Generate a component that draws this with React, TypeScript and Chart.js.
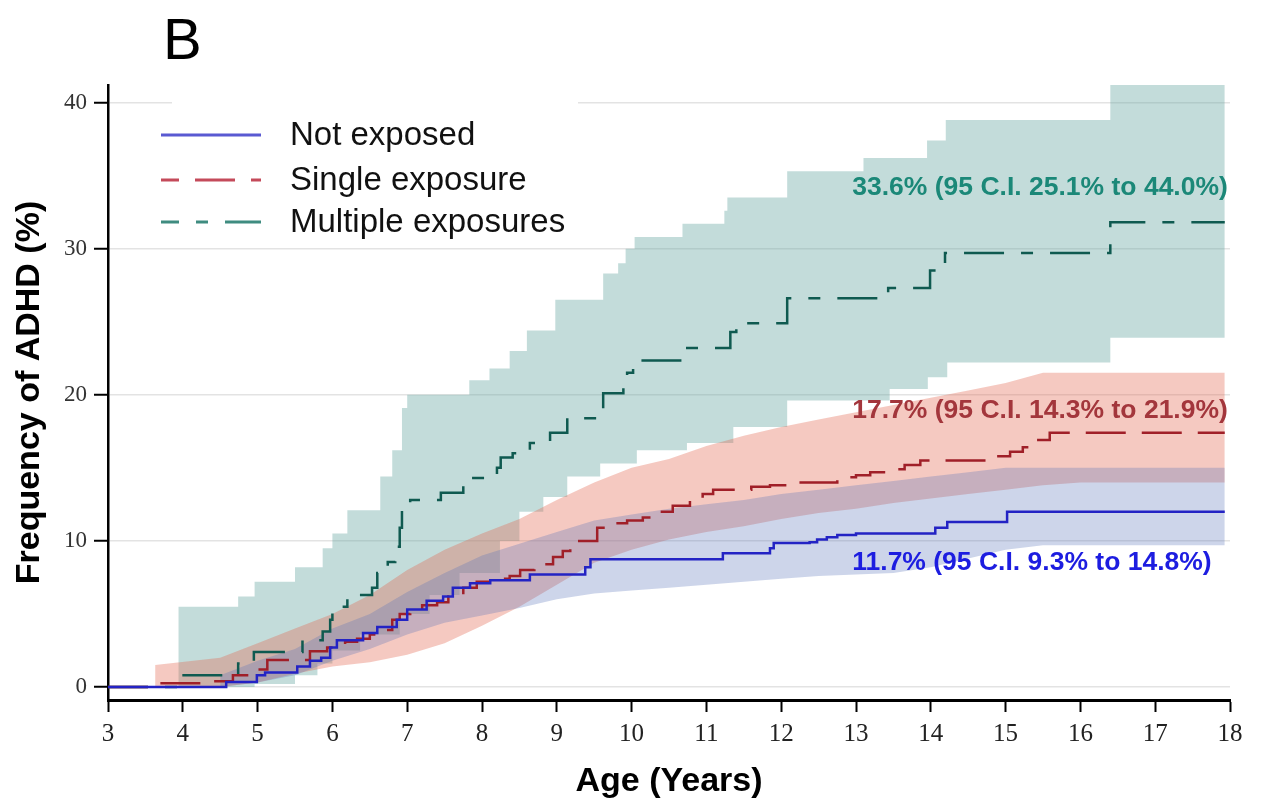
import React, { useEffect, useRef } from "react";
import { Chart, registerables } from "chart.js";

Chart.register(...registerables);

// ---------- DATA ----------
const xTicks = [3, 4, 5, 6, 7, 8, 9, 10, 11, 12, 13, 14, 15, 16, 17, 18];
const yTicks = [0, 10, 20, 30, 40];

const seriesLabels = ["Not exposed", "Single exposure", "Multiple exposures"];

// Not exposed (Kaplan-Meier cumulative frequency, %)
const notExposedAge = [3, 4.58, 4.99, 5.1, 5.53, 5.7, 5.85, 5.97, 6.06, 6.41, 6.6, 6.86, 7.0, 7.26, 7.48, 7.61, 7.84, 8.11, 8.64, 9.38, 9.45, 11.22, 11.85, 11.9, 12.38, 12.48, 12.61, 12.75, 13.0, 14.06, 14.22, 15.02, 17.93];
const notExposedPct = [0, 0.35, 0.8, 1.0, 1.4, 1.8, 2.0, 2.7, 3.2, 3.7, 4.1, 4.6, 5.3, 5.9, 6.2, 6.8, 7.1, 7.3, 7.7, 8.2, 8.75, 9.15, 9.5, 9.85, 9.9, 10.1, 10.25, 10.4, 10.5, 10.9, 11.3, 12.0, 12.0];

// Single exposure
const singleAge = [3, 3.65, 4.3, 4.67, 4.94, 5.13, 5.7, 5.93, 6.17, 6.33, 6.5, 6.64, 6.8, 6.9, 7.04, 7.2, 7.4, 7.55, 7.75, 7.93, 8.1, 8.37, 8.51, 8.7, 8.95, 9.08, 9.18, 9.3, 9.54, 9.75, 9.94, 10.15, 10.35, 10.55, 10.78, 10.95, 11.09, 11.6, 11.85, 12.08, 12.75, 13.0, 13.19, 13.45, 13.65, 13.86, 14.79, 15.06, 15.23, 15.42, 15.59, 17.93];
const singlePct = [0, 0.25, 0.4, 0.8, 1.2, 1.85, 2.45, 2.7, 3.1, 3.3, 3.6, 3.9, 4.6, 5.0, 5.3, 5.6, 5.8, 6.2, 6.8, 7.2, 7.4, 7.6, 8.0, 8.4, 8.9, 9.3, 9.6, 10.0, 10.9, 11.2, 11.4, 11.6, 12.0, 12.4, 12.8, 13.2, 13.5, 13.7, 13.8, 14.0, 14.35, 14.5, 14.7, 14.9, 15.2, 15.5, 15.8, 16.1, 16.4, 16.9, 17.4, 17.4];

// Multiple exposures
const multipleAge = [3, 3.95, 4.74, 4.95, 5.6, 5.87, 5.97, 6.0, 6.2, 6.53, 6.6, 6.74, 6.84, 6.9, 6.93, 7.04, 7.45, 7.75, 8.2, 8.25, 8.41, 8.64, 8.91, 9.14, 9.62, 9.89, 9.94, 10.02, 10.69, 11.32, 11.4, 12.08, 13.43, 13.99, 14.19, 16.4, 17.93];
const multiplePct = [0, 0.8, 1.6, 2.4, 3.2, 3.8, 4.6, 5.5, 6.3, 6.8, 7.8, 8.55, 9.6, 10.9, 12.1, 12.8, 13.3, 14.3, 15.0, 15.7, 16.0, 16.7, 17.4, 18.4, 20.1, 20.85, 21.5, 22.35, 23.2, 24.3, 24.9, 26.6, 27.3, 28.5, 29.7, 31.8, 31.8];

// Confidence bands
const notExposedBandAge = [4.5, 5.0, 5.5, 6.0, 6.5, 7.0, 7.5, 8.0, 8.5, 9.0, 9.5, 10.0, 10.5, 11.0, 11.5, 12.0, 12.5, 13.0, 13.5, 14.0, 14.5, 15.0, 15.5, 17.93];
const notExposedLower = [0, 0.3, 0.8, 1.8, 2.6, 3.6, 4.4, 4.9, 5.4, 6.0, 6.4, 6.6, 6.8, 7.0, 7.2, 7.4, 7.6, 7.7, 7.8, 8.2, 8.8, 9.4, 9.7, 9.7];
const notExposedUpper = [0.8, 1.8, 2.6, 4.0, 5.0, 6.5, 7.8, 9.0, 9.8, 10.6, 11.4, 11.8, 12.2, 12.5, 12.8, 13.2, 13.5, 13.8, 14.1, 14.4, 14.7, 15.0, 15.0, 15.0];

const singleBandAge = [3.63, 4.5, 5.0, 5.5, 6.0, 6.5, 7.0, 7.5, 8.0, 8.5, 9.0, 9.5, 10.0, 10.5, 11.0, 11.5, 12.0, 12.5, 13.0, 13.5, 14.0, 14.5, 15.0, 15.5, 16.0, 17.93];
const singleLower = [0, 0, 0.3, 0.9, 1.4, 1.7, 2.2, 3.0, 4.2, 5.5, 7.0, 8.5, 9.4, 10.1, 10.6, 11.0, 11.5, 11.9, 12.2, 12.6, 12.9, 13.2, 13.5, 13.8, 14.0, 14.0];
const singleUpper = [1.5, 2.0, 3.0, 4.0, 5.0, 6.3, 8.0, 9.4, 10.5, 11.5, 12.8, 14.0, 15.0, 15.6, 16.5, 17.2, 17.8, 18.3, 18.8, 19.3, 19.8, 20.3, 20.8, 21.5, 21.5, 21.5];

const multipleUpperAge = [3.94, 4.74, 4.96, 5.5, 5.87, 6.0, 6.2, 6.64, 6.8, 6.93, 7.0, 7.83, 8.1, 8.37, 8.6, 8.98, 9.62, 9.82, 9.92, 10.04, 10.68, 11.24, 11.28, 12.08, 13.1, 13.95, 14.2, 16.4, 17.93];
const multipleUpper = [5.5, 6.2, 7.2, 8.2, 9.5, 10.5, 12.1, 14.4, 16.2, 19.1, 20.0, 21.0, 21.8, 23.0, 24.4, 26.5, 28.3, 29.0, 30.0, 30.8, 31.7, 32.6, 33.5, 35.3, 36.2, 37.4, 38.8, 44.0, 44.0];
const multipleLowerAge = [3.94, 4.96, 5.5, 5.8, 6.0, 6.37, 6.9, 7.3, 7.7, 8.24, 8.5, 8.82, 9.14, 9.58, 10.07, 10.74, 11.36, 12.08, 13.45, 13.96, 14.22, 16.4, 17.93];
const multipleLower = [0, 0.2, 0.8, 1.6, 2.5, 3.6, 5.0, 6.3, 7.8, 10.0, 12.0, 13.0, 14.4, 15.3, 16.2, 16.7, 17.8, 19.6, 20.4, 21.2, 22.2, 23.9, 23.9];

const annotationTexts = [
  "11.7% (95 C.I. 9.3% to 14.8%)",
  "17.7% (95 C.I. 14.3% to 21.9%)",
  "33.6% (95 C.I. 25.1% to 44.0%)",
];

// ---------- STYLE ----------
const lineColors = ["#2323c4", "#a01f28", "#0f5a50"];
const legendColors = ["#5a5ad2", "#c44a5a", "#3f8c80"];
const bandColors = ["rgba(88,115,185,0.30)", "rgba(226,101,78,0.35)", "rgba(105,167,162,0.40)"];
const annotationColors = ["#1d1de0", "#a3363c", "#1b8878"];
const annotationAnchor = { x: 12.95, y: [8.5, 18.9, 34.2] };
const lineDashes = [[], [40, 16], [40, 17, 12, 17]];

const toPoints = (xs: number[], ys: number[]) => xs.map((x, i) => ({ x, y: ys[i] }));

const overlayPlugin = {
  id: "overlay",
  beforeDatasetsDraw(chart: any) {
    const ctx = chart.ctx;
    ctx.save();
    ctx.fillStyle = "#ffffff";
    ctx.fillRect(172, 91, 406, 148);
    ctx.restore();
  },
  afterDraw(chart: any) {
    const ctx = chart.ctx;
    const xs = chart.scales.x;
    const ys = chart.scales.y;
    ctx.save();
    // panel letter
    ctx.fillStyle = "#000";
    ctx.font = "58px 'Liberation Sans', Arial, sans-serif";
    ctx.textBaseline = "alphabetic";
    ctx.textAlign = "left";
    ctx.fillText("B", 163, 59);

    // legend
    const rows = [135, 180, 222];
    const dashOffsets = [0, 22, 22];
    for (let i = 0; i < 3; i++) {
      ctx.beginPath();
      ctx.strokeStyle = legendColors[i];
      ctx.lineWidth = 3;
      ctx.setLineDash(lineDashes[i]);
      ctx.lineDashOffset = dashOffsets[i];
      ctx.moveTo(161, rows[i]);
      ctx.lineTo(261, rows[i]);
      ctx.stroke();
      ctx.setLineDash([]);
      ctx.fillStyle = "#111";
      ctx.font = "33px 'Liberation Sans', Arial, sans-serif";
      ctx.textBaseline = "middle";
      ctx.fillText(seriesLabels[i], 290, rows[i] + 1);
    }

    // annotations
    ctx.font = "bold 26.5px 'Liberation Sans', Arial, sans-serif";
    ctx.textBaseline = "middle";
    for (let i = 0; i < 3; i++) {
      ctx.fillStyle = annotationColors[i];
      ctx.fillText(annotationTexts[i], xs.getPixelForValue(annotationAnchor.x), ys.getPixelForValue(annotationAnchor.y[i]));
    }
    ctx.restore();
  },
};

export default function App() {
  const canvasRef = useRef<HTMLCanvasElement | null>(null);

  useEffect(() => {
    document.body.style.margin = "0";
    const canvas = canvasRef.current;
    if (!canvas) return;

    const lineDs = (i: number, xs: number[], ysv: number[]) => ({
      label: seriesLabels[i],
      data: toPoints(xs, ysv),
      borderColor: lineColors[i],
      borderWidth: 2.5,
      borderDash: lineDashes[i],
      stepped: true,
      fill: false,
      pointRadius: 0,
    });
    const lowerDs = (xs: number[], ysv: number[], stepped: boolean) => ({
      label: "lower",
      data: toPoints(xs, ysv),
      borderWidth: 0,
      borderColor: "rgba(0,0,0,0)",
      stepped,
      fill: false,
      pointRadius: 0,
    });
    const upperDs = (i: number, xs: number[], ysv: number[], stepped: boolean) => ({
      label: "upper",
      data: toPoints(xs, ysv),
      borderWidth: 0,
      borderColor: "rgba(0,0,0,0)",
      backgroundColor: bandColors[i],
      stepped,
      fill: "-1",
      pointRadius: 0,
    });

    const chart = new Chart(canvas, {
      type: "line",
      data: {
        datasets: [
          lineDs(0, notExposedAge, notExposedPct),
          lineDs(1, singleAge, singlePct),
          lineDs(2, multipleAge, multiplePct),
          lowerDs(notExposedBandAge, notExposedLower, false),
          upperDs(0, notExposedBandAge, notExposedUpper, false),
          lowerDs(singleBandAge, singleLower, false),
          upperDs(1, singleBandAge, singleUpper, false),
          lowerDs(multipleLowerAge, multipleLower, true),
          upperDs(2, multipleUpperAge, multipleUpper, true),
        ] as any,
      },
      options: {
        animation: false,
        responsive: false,
        maintainAspectRatio: false,
        layout: { padding: { left: 0, right: 31, top: 85, bottom: 0 } },
        plugins: { legend: { display: false }, tooltip: { enabled: false } },
        scales: {
          x: {
            type: "linear",
            min: 3,
            max: 18,
            afterBuildTicks: (s: any) => {
              s.ticks = xTicks.map((v) => ({ value: v }));
            },
            afterFit: (s: any) => {
              s.height = 102;
            },
            grid: { drawOnChartArea: false, drawTicks: true, tickLength: 12, tickColor: "#000", tickWidth: 2 },
            border: { color: "#000", width: 3 },
            ticks: {
              font: { family: "'Liberation Serif', serif", size: 25 },
              color: "#222",
              padding: 7,
              maxRotation: 0,
              autoSkip: false,
            },
            title: {
              display: true,
              text: "Age (Years)",
              color: "#000",
              font: { family: "'Liberation Sans', Arial, sans-serif", size: 34, weight: "bold" },
              padding: { top: 6, bottom: 0 },
            },
          },
          y: {
            type: "linear",
            min: -0.89,
            max: 41.2,
            afterBuildTicks: (s: any) => {
              s.ticks = yTicks.map((v) => ({ value: v }));
            },
            afterFit: (s: any) => {
              s.width = 108;
            },
            grid: { color: "#e3e3e3", lineWidth: 1.5, drawTicks: true, tickLength: 14, tickColor: "#000", tickWidth: 2 },
            border: { color: "#000", width: 2.5 },
            ticks: {
              font: { family: "'Liberation Serif', serif", size: 23 },
              color: "#333",
              padding: 7,
            },
            title: {
              display: true,
              text: "Frequency of ADHD (%)",
              color: "#000",
              font: { family: "'Liberation Sans', Arial, sans-serif", size: 34, weight: "bold" },
              padding: { top: 9, bottom: 0 },
            },
          },
        },
      } as any,
      plugins: [overlayPlugin as any],
    });

    return () => chart.destroy();
  }, []);

  return (
    <div style={{ width: 1261, height: 802 }}>
      <canvas ref={canvasRef} width={1261} height={802} style={{ display: "block" }} />
    </div>
  );
}
